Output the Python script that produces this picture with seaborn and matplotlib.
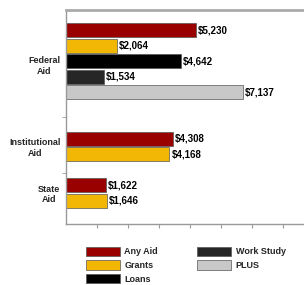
import matplotlib
matplotlib.use("Agg")
import matplotlib.pyplot as plt
import seaborn as sns
import pandas as pd

# ---- data ----
aid_types = ["Any Aid", "Grants", "Loans", "Work Study", "PLUS"]
type_colors = ["#990000", "#F2B705", "#000000", "#262626", "#C8C8C8"]

federal_types = ["Any Aid", "Grants", "Loans", "Work Study", "PLUS"]
federal_values = [5230, 2064, 4642, 1534, 7137]

institutional_types = ["Any Aid", "Grants"]
institutional_values = [4308, 4168]

state_types = ["Any Aid", "Grants"]
state_values = [1622, 1646]

group_names = ["Federal Aid", "Institutional Aid", "State Aid"]
group_labels = ["Federal\nAid", "Institutional\nAid", "State\nAid"]

# ---- build table ----
rows = []
for g, types, vals in [(group_names[0], federal_types, federal_values),
                       (group_names[1], institutional_types, institutional_values),
                       (group_names[2], state_types, state_values)]:
    for t, v in zip(types, vals):
        rows.append({"group": g, "type": t, "value": v, "row": f"{g} | {t}"})
df = pd.DataFrame(rows)

order = ([f"{group_names[0]} | {t}" for t in federal_types] + ["_gap1", "_gap2"] +
         [f"{group_names[1]} | {t}" for t in institutional_types] + ["_gap3"] +
         [f"{group_names[2]} | {t}" for t in state_types])

sns.set_style("white")
plt.rcParams["font.family"] = ["Liberation Sans", "DejaVu Sans"]

fig = plt.figure(figsize=(3.04, 2.85), dpi=100)
ax = fig.add_axes([66 / 304, 1 - 224 / 285, 1 - 66 / 304, (224 - 10) / 285])

sns.barplot(data=df, y="row", x="value", hue="type", order=order,
            hue_order=aid_types, palette=dict(zip(aid_types, type_colors)),
            dodge=False, width=0.92, orient="h", edgecolor="#555555",
            linewidth=0.5, saturation=1, ax=ax)

for c in ax.containers:
    ax.bar_label(c, fmt="${:,.0f}", padding=1.5, fontsize=7,
                 fontweight="bold", color="black")

ax.set_xlim(0, 9600)
ax.set_ylim(12.5, -1.3)
ax.set_xlabel("")
ax.set_ylabel("")

# group ticks
centers = [2.2, 7.5, 10.5]
ax.set_yticks(centers)
ax.set_yticklabels(group_labels, fontsize=6.5, fontweight="bold",
                   multialignment="center")
ax.set_yticks([5.6, 9.2], minor=True)
ax.tick_params(axis="y", which="major", length=0, pad=4)
ax.tick_params(axis="y", which="minor", length=3, color="#999999", left=True)
ax.set_xticks([1250 * i for i in range(1, 8)])
ax.set_xticklabels([])
ax.tick_params(axis="x", length=3, color="#999999", bottom=True,
               direction="out")

for side in ["left", "bottom"]:
    ax.spines[side].set_color("#999999")
    ax.spines[side].set_linewidth(1.0)
ax.spines["top"].set_color("#AAAAAA")
ax.spines["top"].set_linewidth(2.0)
ax.spines["right"].set_visible(False)

handles, labels = ax.get_legend_handles_labels()
ax.get_legend().remove()
fig.legend(handles, labels, ncol=2, loc="upper left",
           bbox_to_anchor=(81 / 304, 1 - 242 / 285), frameon=False,
           handlelength=3.8, handleheight=1.2,
           handletextpad=0.5, columnspacing=4.3, labelspacing=0.45,
           borderpad=0, prop={"weight": "bold", "size": 6.5})

fig.savefig("out.png", dpi=100)
